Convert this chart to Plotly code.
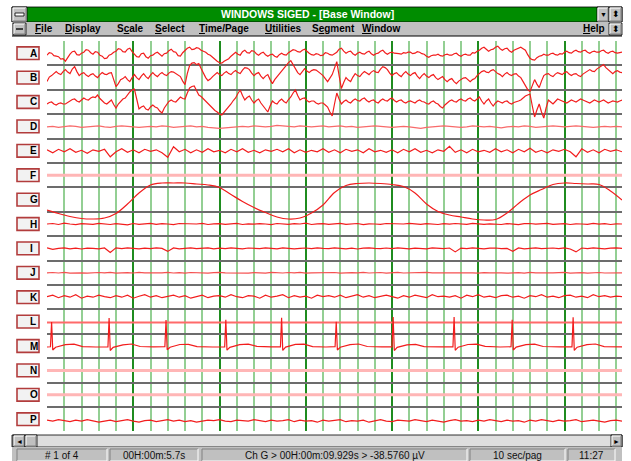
import plotly.graph_objects as go

W, H = 631, 461

CHANNELS = list("ABCDEFGHIJKLMNOP")
SECONDS_PER_PAGE = 10.0
UV_PER_ROW = 244.0  # display sensitivity: one channel row spans 244 uV

# ---- fast EEG channels, 0.04 s sampling (uV) ----
STEP_FAST = 0.04
A_UV = [-20, 5, 0, -25, -30, -35, -60, -55, -80, -40, -10, 15, 20, -15, -20, 0, 10, 35, 30, 5,
        -10, 15, 10, -20, -30, -55, -50, -20, -10, 10, 20, 45, 40, 15, 10, 40, 50, 15, -10, -35,
        -40, -5, 0, -35, -50, -25, -20, 0, 10, -15, -30, -5, 0, 25, 40, 15, 10, -25, -30, 5,
        30, 50, 60, 35, 40, 55, 50, 30, 20, 10, -10, -20, -40, -65, -80, -95, -100, -80, -70, -55,
        -30, -5, 10, -10, -20, 15, 30, 5, 0, 25, 20, -5, -20, 0, 10, -15, -30, -15, -10, -30,
        -40, -15, 0, -15, -20, 5, 20, 35, 30, 15, 10, 30, 40, 15, 0, -15, -20, -5, -10, -25,
        -20, 5, 0, -15, -20, -5, 10, 40, 50, 20, 0, 15, 20, -5, -20, 0, 10, -5, -10, 10,
        20, -5, -20, -5, 0, 20, 30, 5, -10, 5, 10, 0, 0, -5, -10, 5, 0, 10, 10, -5,
        0, 15, 10, -5, -10, -30, -40, -25, -20, -20, -10, -25, -30, -15, -10, -20, -20, -5, 0, -20,
        -30, -15, -10, -20, -20, 5, 0, 20, 30, 50, 60, 35, 20, 35, 40, 60, 70, 45, 30, 45,
        50, 25, 10, 30, 40, 55, 60, 45, 30, -15, -50, -65, -70, -45, -30, -25, -10, -20, -20, -5,
        0, -15, -20, -5, -10, 10, 20, 5, 0, 20, 30, 15, 10, 25, 30, 10, 0, 15, 20, 10,
        10, 25, 30, 10, 0, 15, 20, 5, 0, 5, 10]
B_UV = [-40, 5, 20, 45, 60, 40, 30, 60, 80, 55, 40, 85, 110, 60, 20, 40, 50, 25, 10, 30,
        40, 15, 0, 30, 50, 35, 30, 45, 50, -20, -90, -60, -20, -10, 10, -20, -40, 0, 30, 0,
        -20, 15, 40, 10, -10, 25, 50, 25, 10, 35, 50, 30, 20, 45, 60, 55, 40, 30, 10, -35,
        -70, 40, 120, 145, 150, 130, 140, 90, 40, 0, -30, -15, 10, 35, 50, 30, 20, 45, 60, 40,
        30, 55, 70, 50, 40, 75, 100, 95, 80, 45, 20, 40, 50, 15, -10, 15, 30, -20, -60, -20,
        10, 40, 60, 95, 120, 150, 170, 125, 80, 50, 30, 65, 90, 65, 50, 70, 80, 75, 60, 40,
        20, -15, -40, -5, 30, 95, 160, 20, -110, -50, 0, -25, -40, 5, 40, 20, 10, 40, 60, 45,
        30, 55, 70, 55, 50, 85, 110, 100, 80, 45, 20, 40, 50, 25, 10, 40, 60, 35, 20, 40,
        50, 15, -10, 20, 40, 15, 0, 20, 30, 0, -20, -5, 10, -20, -40, -20, -10, -40, -60, -35,
        -20, -5, 0, -25, -40, -20, -10, 20, 40, 60, 70, 55, 50, 70, 80, 55, 40, 30, 10, 35,
        50, 30, 20, 35, 40, 15, 0, -40, -80, -120, -140, -70, -20, -65, -100, -35, 20, 35, 40, 20,
        10, 35, 50, 40, 30, 50, 60, 35, 20, 35, 40, 20, 10, 35, 50, 70, 80, 65, 60, 85,
        100, 120, 130, 100, 80, 55, 40, 60, 70, 55, 50]
C_UV = [-20, -5, 0, -20, -30, -15, -10, -20, -20, -5, 10, 25, 30, 10, 0, 25, 40, 25, 20, 40,
        50, 45, 70, 35, 10, -10, -20, 5, 20, -25, -60, -20, 10, 30, 40, 75, 100, 120, 130, 30,
        -70, -50, -40, -70, -80, -50, -30, -50, -60, -90, -110, -60, -20, 5, 20, 5, 0, 30, 50, 35,
        30, 90, 140, 155, 160, 115, 70, 55, 30, 5, -20, -45, -60, -85, -100, -120, -130, -105, -80, -45,
        -20, 15, 40, 85, 120, 65, 20, 45, 60, 20, -10, 15, 30, -10, -40, -75, -100, -40, 10, -10,
        -20, 10, 30, 5, -10, 25, 50, 90, 120, 65, 20, 35, 40, 15, 0, 10, 10, -10, -20, -10,
        -10, -30, -50, -100, -140, -20, 90, 30, -20, 5, 20, 0, -10, 15, 30, 15, 10, 30, 40, 15,
        0, 15, 20, 0, -10, 15, 30, 15, 10, 30, 40, 15, 0, 15, 20, 0, -10, 5, 10, 0,
        -10, 10, 20, 5, 0, -15, -20, 0, 10, -10, -20, -45, -60, -30, -10, 10, 20, 5, 0, 20,
        30, 15, 10, 30, 40, 20, 10, 35, 50, 10, -20, 10, 30, -10, -40, -10, 10, 0, -10, 5,
        10, -10, -20, -5, 0, 10, 20, 45, 60, 70, 80, -40, -150, -80, -20, -100, -160, -60, 20, 0,
        -20, 5, 30, 20, 10, 0, -10, 5, 20, 10, 0, 15, 30, 20, 10, 0, -10, 5, 20, 10,
        0, 10, 20, 5, -10, 0, 10, 5, 0, 10, 20]

# ---- slow / low-amplitude channels, 0.1 s sampling (uV) ----
STEP_SLOW = 0.1
D_UV = [-5, 0, -10, -5, 5, 0, -10, -5, 0, 5,
        -5, -10, 0, 5, 0, -5, -10, -5, 0, -5,
        5, 0, -10, -5, 0, 5, -5, 0, -10, -15,
        -20, -15, -10, -5, 0, -5, 5, 0, -5, 0,
        10, 5, 0, -5, 5, 0, -5, 0, 5, -5,
        0, 5, -5, 0, -10, -5, 0, 5, 0, -5,
        -10, -5, 0, -5, -15, -20, -10, -5, 0, 5,
        0, -5, -10, -5, 5, 0, -5, 0, -10, -15,
        -5, 0, -5, 5, 0, -10, -5, 0, 5, 0,
        -5, 0, 5, 0, -5, -10, -5, 0, -5, 0,
        -5]
E_UV = [10, -20, 15, -10, 20, -15, 5, -25, 10, -5,
        15, -60, -10, 20, -15, 10, -20, 15, -5, 10,
        -20, -65, 40, -10, 15, -20, 10, -15, 20, -10,
        5, -20, 15, -10, 20, -15, 5, -20, 10, -5,
        15, -10, 20, -20, 10, -15, 5, -10, 20, -15,
        10, -20, 15, -5, 10, -20, 20, -10, 5, -15,
        10, -20, 15, -10, 20, -15, 5, -20, 10, -5,
        45, -15, 10, -20, 15, -10, 5, -15, 20, -10,
        10, -20, 15, -10, 25, -15, 5, -20, 10, -5,
        15, -10, -60, 20, -15, 10, -20, 15, -5, 10,
        -10]
H_UV = [0, 5, -5, 8, 0, -6, 3, 0, -4, 6,
        2, -5, 4, 0, -8, 5, -3, 1, 6, -4,
        3, 0, -6, 5, 2, -4, 0, 7, -5, 1,
        4, -3, 0, 6, -5, 2, -2, 4, 0, -6,
        5, 1, -4, 3, 0, 8, -5, 2, 4, -3,
        0, 6, -4, 1, 5, -6, 2, 0, -3, 5,
        3, -5, 0, 6, -2, -4, 4, 1, -5, 3,
        -2, 5, 0, -4, 6, 1, -3, 2, 0, -5,
        4, 0, -6, 3, 5, -2, 0, 6, -4, 1,
        3, -5, 2, 0, -3, 6, -1, 4, -5, 2,
        0]
I_UV = [5, -10, 0, 6, -4, 2, -6, 3, 0, -5,
        4, -40, 5, -3, 6, 0, -4, 3, -2, 5,
        0, -30, 4, -5, 2, 6, -3, 0, 5, -4,
        3, -2, 6, 0, -5, 4, 1, -3, 5, 0,
        -4, 6, 2, -5, 0, 4, -3, 6, 1, -2,
        5, 0, -4, 3, -6, 2, 5, 0, -3, 4,
        -2, 6, 0, -5, 3, 1, -4, 5, 0, -3,
        4, -35, 3, -2, 6, 0, -5, 2, 4, -3,
        0, -28, 5, -4, 2, 6, -3, 0, 4, -2,
        5, -6, -35, 4, -3, 6, 0, -4, 2, 5,
        0]
J_UV = [0, 3, -2, 4, -3, 1, 0, -4, 2, 3,
        -1, 4, -3, 0, 2, -2, 5, -1, -3, 2,
        0, 4, -2, 1, -4, 3, 0, 2, -3, 1,
        4, -1, -2, 3, 0, -4, 2, 1, -3, 5,
        0, -2, 3, -1, 4, -3, 0, 2, -2, 1,
        3, -4, 0, 2, -1, 4, -2, 0, 3, -3,
        1, 4, -2, 0, -3, 2, 5, -1, 0, -4,
        3, 1, -2, 4, 0, -3, 2, -1, 3, 0,
        -4, 2, 1, -3, 4, 0, -2, 3, -1, 1,
        4, -3, 0, 2, -4, 1, 3, -2, 0, 2,
        0]
K_UV = [5, 20, -5, 15, 0, 25, -10, 10, 0, 20,
        5, -5, 15, 0, 20, -10, 10, 25, 0, 15,
        -5, 10, 20, 0, 15, -10, 5, 20, -5, 10,
        15, 0, 25, 5, -5, 15, 10, -10, 20, 0,
        10, 25, -5, 15, 0, 10, -10, 20, 5, 15,
        0, 20, -5, 10, 25, 0, 15, -5, 10, 20,
        5, -10, 15, 0, 20, 10, -5, 25, 5, 10,
        0, 15, -10, 20, 5, 25, 0, 10, -5, 15,
        20, 0, 10, -10, 15, 5, 25, 0, 10, -5,
        15, 20, 0, 10, -5, 25, 5, 15, 0, 10,
        5]
P_UV = [-10, -20, -5, -15, -25, -10, -20, -5, -15, -30,
        -20, -10, -25, -15, -5, -20, -30, -15, -10, -25,
        -15, -5, -20, -10, -25, -15, -30, -20, -10, -15,
        -5, -20, -25, -10, -15, -20, -5, -15, -25, -10,
        -20, -15, -5, -25, -10, -20, -15, -30, -10, -20,
        -15, -5, -25, -15, -20, -10, -30, -15, -5, -20,
        -25, -10, -15, -20, -5, -15, -25, -10, -20, -30,
        -15, -5, -20, -15, -25, -10, -20, -5, -15, -25,
        -10, -20, -15, -30, -10, -20, -5, -15, -25, -10,
        -20, -15, -5, -25, -15, -10, -20, -30, -15, -10,
        -20]

# ---- respiration-like slow wave, 0.2 s sampling (uV) ----
STEP_G = 0.2
G_UV = [-104, -139, -169, -189, -194, -184, -139, -44, 66, 146,
        166, 166, 166, 156, 146, 121, 51, -19, -79, -129,
        -174, -194, -184, -134, -54, 71, 141, 161, 166, 161,
        151, 131, 66, -44, -119, -154, -174, -194, -204, -199,
        -134, -39, 46, 101, 151, 166, 161, 156, 151, 86, -4]

# ---- ECG channel, irregular samples (s, uV) ----
M_T = [0.00, 0.06, 0.08, 0.10, 0.15, 0.32, 0.47, 0.62, 0.85,
       1.06, 1.08, 1.10, 1.15, 1.32, 1.47, 1.62, 1.85,
       2.05, 2.07, 2.09, 2.14, 2.31, 2.46, 2.61, 2.88,
       3.09, 3.11, 3.13, 3.18, 3.35, 3.50, 3.65, 3.90,
       4.06, 4.08, 4.10, 4.15, 4.32, 4.47, 4.62, 4.85,
       5.01, 5.03, 5.05, 5.10, 5.27, 5.42, 5.57, 5.82,
       6.00, 6.02, 6.04, 6.09, 6.26, 6.41, 6.56, 6.85,
       7.06, 7.08, 7.10, 7.15, 7.32, 7.47, 7.62, 7.88,
       8.07, 8.09, 8.11, 8.16, 8.33, 8.48, 8.63, 8.92,
       9.13, 9.15, 9.17, 9.22, 9.39, 9.54, 9.69, 10.00]
M_UV = [-10, -8, 240, -40, -12, 14, 18, -6, -10,
        -8, 280, -45, -14, 12, 20, -5, -9,
        -7, 260, -38, -12, 15, 17, -6, -10,
        -9, 262, -42, -13, 13, 19, -4, -8,
        -8, 282, -44, -11, 16, 18, -6, -10,
        -7, 242, -40, -12, 14, 20, -5, -9,
        -9, 290, -46, -13, 12, 17, -6, -8,
        -8, 290, -43, -12, 15, 19, -4, -10,
        -7, 262, -40, -11, 13, 18, -5, -9,
        -9, 288, -44, -12, 14, 20, -6, -8]

# ---- flat (disconnected / reference) channels (uV) ----
FLAT_UV = {"F": 0, "L": -10, "N": 0, "O": 0}

STATUS_TEXT = ["# 1 of 4", "00H:00m:5.7s",
               "Ch G > 00H:00m:09.929s > -38.5760 µV", "10 sec/pag", "11:27"]
MENU_ITEMS = ["<u>F</u>ile", "<u>D</u>isplay", "S<u>c</u>ale", "<u>S</u>elect",
              "<u>T</u>ime/Page", "<u>U</u>tilities", "S<u>e</u>gment", "<u>W</u>indow"]
TITLE = "WINDOWS SIGED - [Base Window]"

# ------------------------------------------------------------------
EEG_RED = "#f21d1d"
FONT = "Liberation Sans"


def row_center(ch):
    return len(CHANNELS) - CHANNELS.index(ch) - 0.5


def sampled(values, step):
    return [round(i * step, 4) for i in range(len(values))]


fig = go.Figure()


def add_channel(ch, t, uv, color=EEG_RED, width=1.2, shape="linear"):
    c = row_center(ch)
    fig.add_trace(go.Scatter(
        x=t, y=[c + v / UV_PER_ROW for v in uv], mode="lines",
        line=dict(color=color, width=width, shape=shape),
        hoverinfo="skip", showlegend=False))


for ch, level in FLAT_UV.items():
    col = "#ff6a6a" if ch == "L" else "#ffb6b6"
    add_channel(ch, [0, SECONDS_PER_PAGE], [level, level], color=col,
                width=2 if ch == "L" else 3)

add_channel("A", sampled(A_UV, STEP_FAST), A_UV)
add_channel("B", sampled(B_UV, STEP_FAST), B_UV)
add_channel("C", sampled(C_UV, STEP_FAST), C_UV)
add_channel("D", sampled(D_UV, STEP_SLOW), D_UV, color="#f86a6a")
add_channel("E", sampled(E_UV, STEP_SLOW), E_UV)
add_channel("G", sampled(G_UV, STEP_G), G_UV, shape="spline")
add_channel("H", sampled(H_UV, STEP_SLOW), H_UV)
add_channel("I", sampled(I_UV, STEP_SLOW), I_UV)
add_channel("J", sampled(J_UV, STEP_SLOW), J_UV, color="#f55050")
add_channel("K", sampled(K_UV, STEP_SLOW), K_UV)
add_channel("M", M_T, M_UV)
add_channel("P", sampled(P_UV, STEP_SLOW), P_UV)

# ------------------------------------------------------------------
# window chrome, in screen pixels
shapes, annotations = [], []


def px(x):
    return x / W


def py(y):
    return 1 - y / H


def rect(x0, y0, x1, y1, fill, line=None, lw=0):
    shapes.append(dict(type="rect", xref="paper", yref="paper",
                       x0=px(x0), x1=px(x1), y0=py(y1), y1=py(y0),
                       fillcolor=fill, line=dict(color=line or fill, width=lw),
                       layer="above"))


def hline(x0, x1, y, color, lw=1):
    shapes.append(dict(type="line", xref="paper", yref="paper",
                       x0=px(x0), x1=px(x1), y0=py(y), y1=py(y),
                       line=dict(color=color, width=lw), layer="above"))


def vline(x, y0, y1, color, lw=1):
    shapes.append(dict(type="line", xref="paper", yref="paper",
                       x0=px(x), x1=px(x), y0=py(y0), y1=py(y1),
                       line=dict(color=color, width=lw), layer="above"))


def text(x, y, s, size=10, color="#000", anchor="center", family=FONT):
    annotations.append(dict(xref="paper", yref="paper", x=px(x), y=py(y),
                            text=s, showarrow=False, xanchor=anchor,
                            yanchor="middle", font=dict(size=size, color=color,
                                                        family=family)))


def button(x0, y0, x1, y1):
    rect(x0, y0, x1, y1, "#c0c0c0", "#000000", 0.8)
    hline(x0 + 1, x1 - 1, y0 + 1, "#ffffff", 1)
    vline(x0 + 1, y0 + 1, y1 - 1, "#ffffff", 1)
    hline(x0 + 1, x1 - 1, y1 - 1, "#808080", 1)
    vline(x1 - 1, y0 + 1, y1 - 1, "#808080", 1)


def sunken(x0, y0, x1, y1):
    rect(x0, y0, x1, y1, "#c0c0c0")
    hline(x0, x1, y0, "#808080", 1)
    vline(x0, y0, y1, "#808080", 1)
    hline(x0, x1, y1, "#ffffff", 1)
    vline(x1, y0, y1, "#ffffff", 1)


# title bar
rect(12, 7, 622, 22, "#008c00", "#000000", 0.8)
button(12, 7, 27, 22)
rect(15, 13, 24, 16, "#ffffff", "#000000", 0.8)
button(597, 7, 609, 22)
button(609, 7, 622, 22)
text(603, 14.5, "▼", size=7)
text(615.5, 14.5, "⬍", size=9)
text(307, 14.5, "<b>%s</b>" % TITLE, size=10.5, color="#ffffff")

# menu bar
rect(12, 22, 622, 36, "#c0c0c0")
hline(12, 622, 36, "#000000", 1)
button(13, 23, 26, 35)
hline(16, 23, 29, "#404040", 2)
button(609, 23, 622, 35)
text(615.5, 29, "⬍", size=9)
menu_x = [33, 63, 115, 153, 197, 263, 310, 360]
for mx, label in zip(menu_x, MENU_ITEMS):
    text(mx, 29, "<b>%s</b>" % label, size=10, anchor="left")
text(607, 29, "<b><u>H</u>elp</b>", size=10, anchor="right")

# scrollbar
rect(12, 435, 622, 447, "#dedede", "#000000", 0.8)
button(13, 435, 25, 447)
text(19, 441, "◄", size=7)
button(25, 435, 37, 447)
button(611, 435, 622, 447)
text(616.5, 441, "►", size=7)

# status bar
rect(12, 447, 622, 461, "#c0c0c0")
panels = [(17, 107), (110, 198), (202, 467), (470, 565), (568, 615)]
for (x0, x1), s in zip(panels, STATUS_TEXT):
    sunken(x0, 449, x1, 461)
    text((x0 + x1) / 2, 455, s, size=10, color="#101010")

# channel label buttons
for ch in CHANNELS:
    c = row_center(ch)
    shapes.append(dict(type="rect", xref="paper", yref="y",
                       x0=px(17), x1=px(39), y0=c - 0.26, y1=c + 0.26,
                       fillcolor="#f2f2f2", line=dict(color="#b23c3c", width=1.6),
                       layer="above"))
    annotations.append(dict(xref="paper", yref="y", x=px(28), y=c,
                            text="<b>%s</b>" % ch, showarrow=False,
                            font=dict(size=10, color="#000000", family=FONT)))

fig.update_layout(
    width=W, height=H, margin=dict(l=0, r=0, t=0, b=0),
    paper_bgcolor="#ffffff", plot_bgcolor="#ffffff",
    shapes=shapes, annotations=annotations, showlegend=False,
    xaxis=dict(domain=[px(47), px(622)], range=[0, SECONDS_PER_PAGE],
               tick0=0, dtick=1.5, showgrid=True, gridcolor="#1f8c1f",
               gridwidth=2, showticklabels=False, ticks="", zeroline=False,
               minor=dict(tick0=0, dtick=0.3, showgrid=True,
                          gridcolor="#93cf93", gridwidth=2),
               showline=False, fixedrange=True),
    yaxis=dict(domain=[py(431.4), py(41)], range=[0, len(CHANNELS)],
               tick0=0, dtick=1, showgrid=True, gridcolor="#6c6c6c",
               gridwidth=2.2, showticklabels=False, ticks="", zeroline=False,
               showline=False, fixedrange=True),
)

fig.write_html("out.html")
